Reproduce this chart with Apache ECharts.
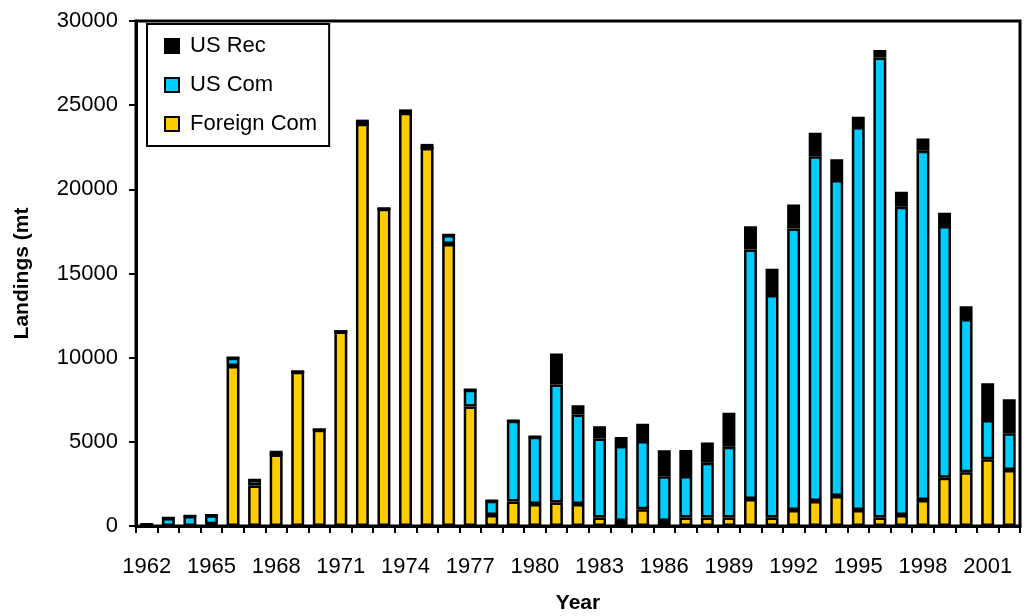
<!DOCTYPE html>
<html>
<head>
<meta charset="utf-8">
<script src="https://cdn.jsdelivr.net/npm/echarts@6/dist/echarts.min.js"></script>
<style>html,body{margin:0;padding:0;background:#fff}#c{width:1027px;height:616px}</style>
</head>
<body>
<div id="c"></div>
<script>
const years = ['1962','1963','1964','1965','1966','1967','1968','1969','1970','1971','1972','1973','1974','1975','1976','1977','1978','1979','1980','1981','1982','1983','1984','1985','1986','1987','1988','1989','1990','1991','1992','1993','1994','1995','1996','1997','1998','1999','2000','2001','2002'];
const foreignCom = [0,0,0,100,9500,2400,4250,9170,5720,11550,23900,18850,24550,22450,16750,7100,650,1450,1300,1400,1300,500,300,1000,300,500,500,500,1600,500,950,1480,1780,950,500,650,1550,2870,3190,3960,3330];
const usCom = [100,470,600,540,500,330,0,0,0,0,0,0,0,0,530,1000,850,4800,4000,7000,5330,4700,4450,4050,2650,2470,3260,4210,14830,13220,16730,20490,18770,22760,27330,18310,20740,14950,9100,2340,2180];
const usRec = [0,0,0,0,0,0,220,0,0,0,240,0,200,250,0,0,0,0,0,1850,550,730,530,1030,1550,1550,1200,2020,1380,1560,1420,1390,1230,600,440,890,730,790,770,2180,2020];
const yTicks = { min: 0, max: 30000, interval: 5000 };

const font = 'Liberation Sans, Arial, sans-serif';
const chart = echarts.init(document.getElementById('c'));
const barStyle = (color) => ({ color: color, borderColor: '#000', borderWidth: 2.5 });
chart.setOption({
  animation: false,
  backgroundColor: '#fff',
  grid: { left: 136, right: 7, top: 21, bottom: 90, outerBoundsMode: 'none', containLabel: false, show: true, borderColor: '#000', borderWidth: 3, backgroundColor: 'transparent' },
  legend: {
    orient: 'vertical', left: 147, top: 24,
    data: ['US Rec', 'US Com', 'Foreign Com'],
    icon: 'rect',
    itemWidth: 14, itemHeight: 14, itemGap: 17,
    padding: [11, 12, 11, 17],
    borderColor: '#000', borderWidth: 2,
    textStyle: { fontSize: 22, fontFamily: font, color: '#000', padding: [0, 0, 0, 6] }
  },
  xAxis: {
    type: 'category', data: years,
    name: 'Year', nameLocation: 'middle', nameGap: 67,
    nameTextStyle: { fontSize: 21, fontWeight: 'bold', fontFamily: font, color: '#000' },
    axisLine: { lineStyle: { color: '#000', width: 3 } },
    axisTick: { show: true, interval: 0, length: 7, lineStyle: { color: '#000', width: 2 } },
    axisLabel: { interval: 2, fontSize: 22, fontFamily: font, color: '#000', margin: 30 }
  },
  yAxis: {
    type: 'value', min: yTicks.min, max: yTicks.max, interval: yTicks.interval,
    name: 'Landings (mt', nameLocation: 'middle', nameGap: 103,
    nameTextStyle: { fontSize: 21, fontWeight: 'bold', fontFamily: font, color: '#000' },
    axisLine: { show: true, lineStyle: { color: '#000', width: 3 } },
    axisTick: { show: true, length: 7, lineStyle: { color: '#000', width: 2 } },
    splitLine: { show: false },
    axisLabel: { fontSize: 22, fontFamily: font, color: '#000', margin: 18, formatter: (v) => String(v) }
  },
  series: [
    { name: 'Foreign Com', type: 'bar', stack: 'a', data: foreignCom, barWidth: '60%', itemStyle: barStyle('#FFCC00') },
    { name: 'US Com', type: 'bar', stack: 'a', data: usCom, itemStyle: barStyle('#00CCFF') },
    { name: 'US Rec', type: 'bar', stack: 'a', data: usRec, itemStyle: barStyle('#000000') }
  ]
});
</script>
</body>
</html>
